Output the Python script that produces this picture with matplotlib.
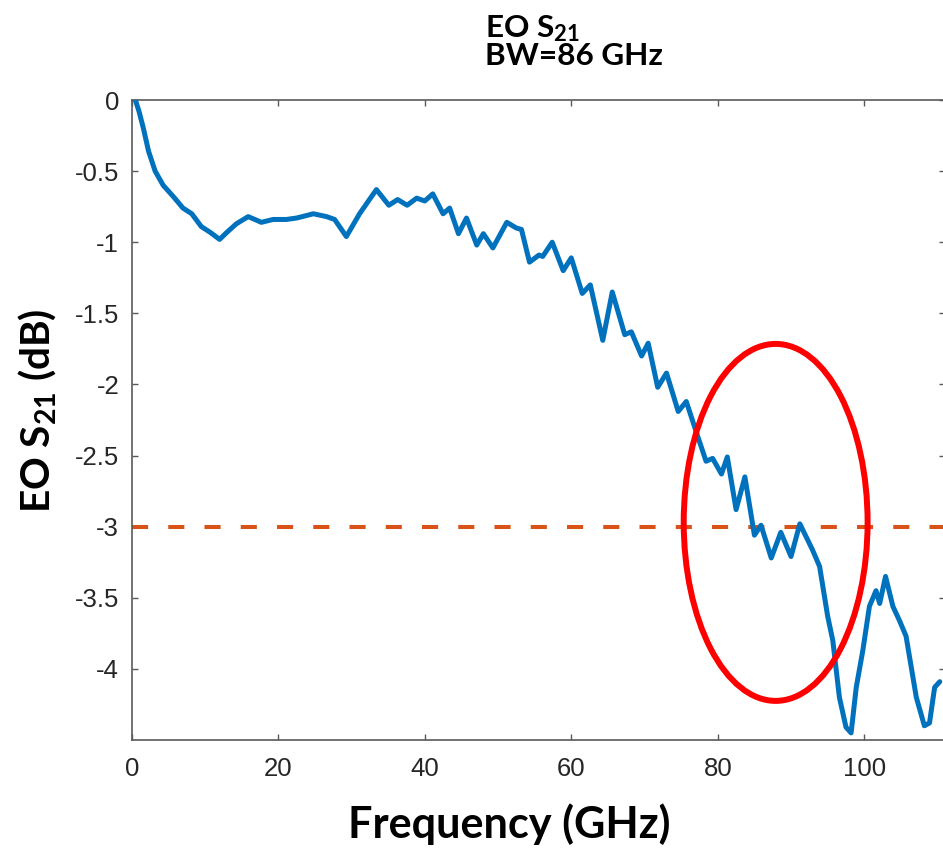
import matplotlib
matplotlib.use("Agg")
import matplotlib.pyplot as plt
from matplotlib.patches import Ellipse

# ---- data ----
freq_ghz = [0.5, 1.0, 1.6, 2.3, 3.2, 4.3, 5.7, 7.0, 8.2, 9.5, 10.7, 12.0, 13.0, 14.3,
            15.9, 17.7, 19.3, 21.1, 22.5, 24.8, 26.6, 27.7, 29.3, 31.1, 33.4, 35.1,
            36.3, 37.6, 38.9, 40.0, 41.1, 42.5, 43.4, 44.6, 45.7, 47.1, 48.0, 49.3,
            51.2, 52.5, 53.2, 54.3, 55.6, 56.1, 57.4, 58.9, 60.0, 61.5, 62.6, 64.3,
            65.6, 67.3, 68.2, 69.6, 70.5, 71.8, 73.0, 74.6, 75.7, 77.1, 78.4, 79.3,
            80.5, 81.3, 82.5, 83.7, 85.0, 85.9, 87.3, 88.6, 90.0, 91.2, 92.9, 93.9,
            95.0, 95.7, 96.6, 97.5, 98.2, 98.9, 99.8, 100.7, 101.6, 102.1, 102.9,
            103.9, 104.8, 105.7, 107.1, 108.2, 108.9, 109.6, 110.3]
s21_db = [0.00, -0.08, -0.20, -0.36, -0.50, -0.60, -0.68, -0.76, -0.80, -0.89, -0.93,
          -0.98, -0.93, -0.87, -0.82, -0.86, -0.84, -0.84, -0.83, -0.80, -0.82, -0.84,
          -0.96, -0.80, -0.63, -0.74, -0.70, -0.74, -0.69, -0.71, -0.66, -0.80, -0.76,
          -0.94, -0.83, -1.02, -0.94, -1.04, -0.86, -0.90, -0.91, -1.14, -1.09, -1.10,
          -1.00, -1.20, -1.11, -1.36, -1.30, -1.69, -1.35, -1.65, -1.63, -1.80, -1.71,
          -2.02, -1.92, -2.19, -2.12, -2.34, -2.54, -2.52, -2.63, -2.51, -2.88, -2.65,
          -3.06, -2.99, -3.22, -3.04, -3.21, -2.98, -3.16, -3.28, -3.63, -3.80, -4.20,
          -4.41, -4.45, -4.13, -3.87, -3.56, -3.45, -3.54, -3.35, -3.56, -3.66, -3.77,
          -4.20, -4.40, -4.38, -4.13, -4.09]
threshold_db = -3.0
x_ticks = [0, 20, 40, 60, 80, 100]
y_ticks = [0, -0.5, -1, -1.5, -2, -2.5, -3, -3.5, -4]
y_tick_labels = ["0", "-0.5", "-1", "-1.5", "-2", "-2.5", "-3", "-3.5", "-4"]
highlight_center = (87.9, -2.97)
highlight_size = (25.1, 2.51)
title_line1 = r"EO S$_{\mathbf{21}}$"
title_line2 = "BW=86 GHz"
x_label = "Frequency (GHz)"
y_label = r"EO S$_{\mathbf{21}}$ (dB)"

plt.rcParams['mathtext.fontset'] = 'custom'
plt.rcParams['mathtext.rm'] = 'Lato'
plt.rcParams['mathtext.bf'] = 'Lato:bold'
plt.rcParams['mathtext.it'] = 'Lato:italic'

W, H = 943, 852
fig = plt.figure(figsize=(W / 100, H / 100), dpi=100)
fig.patch.set_facecolor("white")

def px(x, y):
    return x / W, 1 - y / H

x0, x1 = 131.7, 131.7 + 7.326 * 111
ax = fig.add_axes([x0 / W, 1 - 740 / H, (x1 - x0) / W, 640 / H])

ax.plot(freq_ghz, s21_db, color="#0072BD", lw=3.6, solid_joinstyle="round",
        solid_capstyle="round", zorder=3)
ax.axhline(threshold_db, color="#D95319", lw=2.9, dashes=(4, 5), zorder=2)
ax.add_patch(Ellipse(highlight_center, highlight_size[0], highlight_size[1],
                     fill=False, ec="#FF0000", lw=4.3, zorder=4, clip_on=False))

ax.set_xlim(0, 111)
ax.set_ylim(-4.5, 0)
ax.set_xticks(x_ticks)
ax.set_yticks(y_ticks)
ax.set_yticklabels(y_tick_labels)
for sp in ax.spines.values():
    sp.set_color("#5a5a5a")
    sp.set_linewidth(1.2)
ax.tick_params(direction="in", length=4.5, width=1.0, color="#5a5a5a",
               top=True, right=True, labelsize=18.5, labelcolor="#262626",
               labelfontfamily="Liberation Sans")
ax.tick_params(axis="x", pad=12)
ax.tick_params(axis="y", pad=9)

renderer = fig.canvas.get_renderer()

def fitted_text(x, y, s, target, use_height=False, **kw):
    t = fig.text(*px(x, y), s, fontfamily="Lato", fontweight="bold",
                 fontsize=20, **kw)
    for _ in range(3):
        bb = t.get_window_extent(renderer)
        cur = bb.height if use_height else bb.width
        t.set_fontsize(t.get_fontsize() * target / cur)
    return t

t2 = fitted_text(574, 65, title_line2, 178, ha="center", va="baseline")
bb2 = t2.get_window_extent(renderer)
fig.text(bb2.x0 / W, 1 - 37 / H, title_line1, fontfamily="Lato", fontweight="bold",
         fontsize=t2.get_fontsize(), ha="left", va="baseline")
fitted_text(348, 838, x_label, 322, ha="left", va="baseline")
fitted_text(50, 513, y_label, 205, use_height=True, ha="left", va="baseline",
            rotation=90, rotation_mode="anchor")

fig.savefig("out.png", dpi=100, facecolor="white")
